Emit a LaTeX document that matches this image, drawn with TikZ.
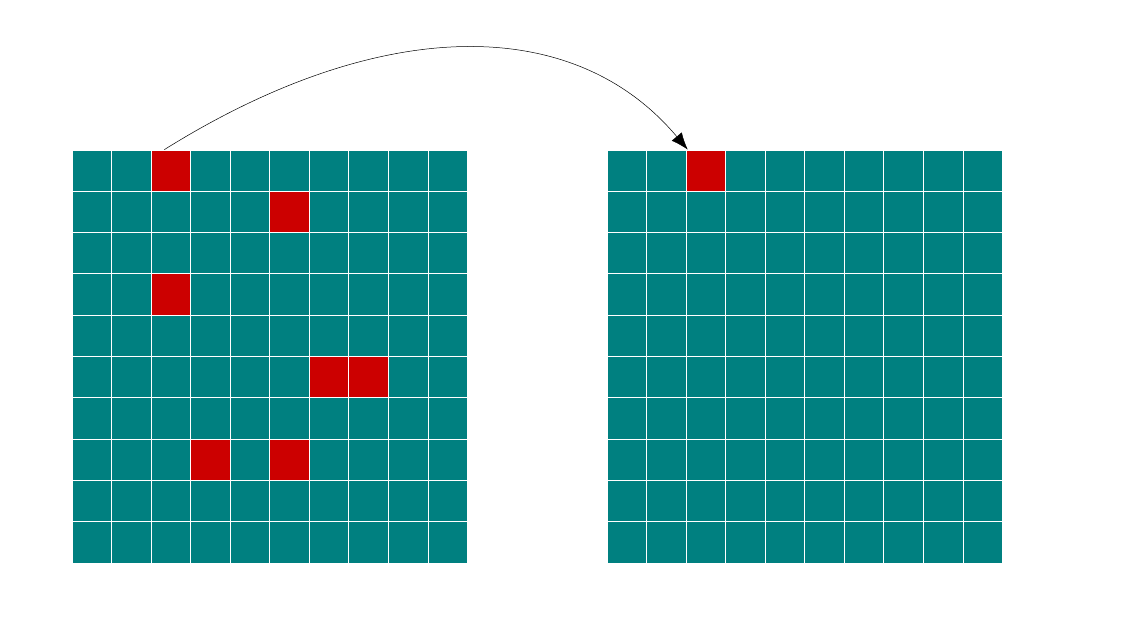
\documentclass[tikz,border=0pt]{standalone}
\usetikzlibrary{arrows.meta}

\definecolor{gridteal}{RGB}{0,128,128}
\definecolor{hotred}{RGB}{204,0,0}

\tikzset{
	cell/.style={draw=white, line width=0.8pt, fill=gridteal, minimum width=39.55pt, minimum height=41.3pt, inner sep=0pt},
	hotcell/.style={cell, fill=hotred}
}

\begin{document}
\begin{tikzpicture}[x=1pt,y=1pt]
		\useasboundingbox (0,0) rectangle (1121,627);
		
		% left and right grids
		\foreach \r in {0,...,9}
		\foreach \c in {0,...,9} {
			\node [cell] (L-\r-\c) at ({72+39.55*(\c+0.5)},{477-41.3*(\r+0.5)}) {};
			\node [cell] (R-\r-\c) at ({607+39.55*(\c+0.5)},{477-41.3*(\r+0.5)}) {};
		}
		
		% red cells
		\foreach \r/\c in {0/2,1/5,3/2,5/6,5/7,7/3,7/5}
		\node [hotcell] (LH-\r-\c) at (L-\r-\c) {};
		\node [hotcell] (RH-0-2) at (R-0-2) {};
		
		\draw [-{Latex[length=17pt,width=13pt]}, line width=0.5pt] ([xshift=-6.5pt]LH-0-2.north) .. controls +(32:250) and +(130:180) .. ([xshift=2pt]RH-0-2.north west);
		
		\end{tikzpicture}
\end{document}
